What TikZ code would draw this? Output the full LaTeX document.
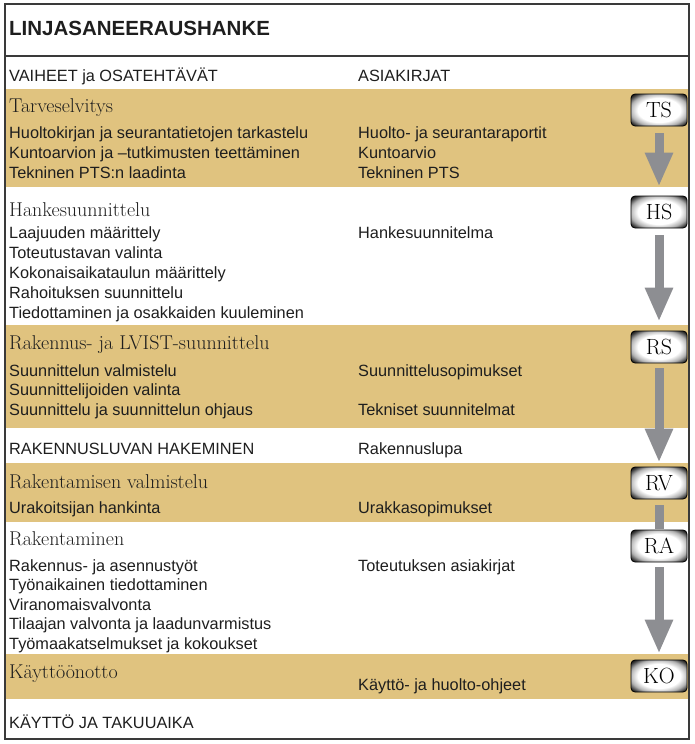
\documentclass[tikz,border=0pt]{standalone}
\usepackage{fontspec}
\setsansfont{Liberation Sans}
\usetikzlibrary{positioning, arrows.meta}
\definecolor{Sand}{HTML}{E0C37F}
\definecolor{Flow}{HTML}{8D8E92}
\definecolor{Edge}{HTML}{3A3A3A}
\definecolor{Ink}{HTML}{1E1E1E}
\pgfdeclareradialshading{badgeshade}{\pgfpoint{0bp}{0bp}}{color(0bp)=(white); color(19bp)=(white); color(26bp)=(black!30); color(31bp)=(black!75); color(35bp)=(black); color(50bp)=(black)}
\tikzset{
    band/.style={fill=Sand},
    outline/.style={draw=Edge, line width=1.3pt},
    titletext/.style={anchor=base west, inner sep=0pt, text=Ink, font=\sffamily\bfseries\fontsize{20.5}{24}\selectfont},
    tasktext/.style={anchor=base west, inner sep=0pt, text=Ink, font=\sffamily\fontsize{16.3}{20}\selectfont},
    phasetext/.style={anchor=base west, inner sep=0pt, text=Ink, font=\rmfamily\fontsize{20}{24}\selectfont},
    badge/.style={rectangle, rounded corners=4pt, draw=black, line width=0.8pt, shading=badgeshade, minimum width=56pt, minimum height=32pt, inner sep=0pt, font=\rmfamily\fontsize{22}{24}\selectfont},
    flow/.style={draw=Flow, line width=9pt, -{Triangle[length=34pt, width=26pt]}},
    flowbar/.style={draw=Flow, line width=9pt},
}

\begin{document}
\begin{tikzpicture}[x=1pt, y=-1pt]
    \useasboundingbox (0,0) rectangle (694,744);

    % bands
    \fill[band] (5,89) rectangle (689,187);
    \fill[band] (5,325) rectangle (689,428);
    \fill[band] (5,463) rectangle (689,522);
    \fill[band] (5,654) rectangle (689,699);
    \draw[outline] (5,4) rectangle (689,739);
    \draw[outline] (5,56) -- (689,56);

    \node[titletext] (title) at (9,35) {LINJASANEERAUSHANKE};
    \node[tasktext] (vaiheet) at (9,81) {VAIHEET ja OSATEHTÄVÄT};
    \node[tasktext] (asiakirjat) at (358,81) {ASIAKIRJAT};

    % Tarveselvitys
    \node[phasetext] (tarve) at (9,112) {Tarveselvitys};
    \foreach \txt [count=\i] in {Huoltokirjan ja seurantatietojen tarkastelu, Kuntoarvion ja –tutkimusten teettäminen, Tekninen PTS:n laadinta}
        \node[tasktext] (tarve-\i) at (9,118+20*\i) {\txt};
    \node[tasktext] (tarve-doc1) at (asiakirjat.base west |- tarve-1.base) {Huolto- ja seurantaraportit};
    \node[tasktext] (tarve-doc2) at (asiakirjat.base west |- tarve-2.base) {Kuntoarvio};
    \node[tasktext] (tarve-doc3) at (asiakirjat.base west |- tarve-3.base) {Tekninen PTS};

    % Hankesuunnittelu
    \node[phasetext] (hanke) at (9,216) {Hankesuunnittelu};
    \foreach \txt [count=\i] in {Laajuuden määrittely, Toteutustavan valinta, Kokonaisaikataulun määrittely, Rahoituksen suunnittelu, Tiedottaminen ja osakkaiden kuuleminen}
        \node[tasktext] (hanke-\i) at (9,218+20*\i) {\txt};
    \node[tasktext] (hanke-doc1) at (asiakirjat.base west |- hanke-1.base) {Hankesuunnitelma};

    % Rakennus- ja LVIST-suunnittelu
    \node[phasetext] (suunn) at (9,349) {Rakennus- ja LVIST-suunnittelu};
    \foreach \txt [count=\i] in {Suunnittelun valmistelu, Suunnittelijoiden valinta, Suunnittelu ja suunnittelun ohjaus}
        \node[tasktext] (suunn-\i) at (9,356.5+19.5*\i) {\txt};
    \node[tasktext] (suunn-doc1) at (asiakirjat.base west |- suunn-1.base) {Suunnittelusopimukset};
    \node[tasktext] (suunn-doc3) at (asiakirjat.base west |- suunn-3.base) {Tekniset suunnitelmat};

    \node[tasktext] (lupa) at (9,454) {RAKENNUSLUVAN HAKEMINEN};
    \node[tasktext] (lupa-doc) at (asiakirjat.base west |- lupa.base) {Rakennuslupa};

    % Rakentamisen valmistelu
    \node[phasetext] (valm) at (9,488) {Rakentamisen valmistelu};
    \node[tasktext] (valm-1) at (9,513) {Urakoitsijan hankinta};
    \node[tasktext] (valm-doc1) at (asiakirjat.base west |- valm-1.base) {Urakkasopimukset};

    % Rakentaminen
    \node[phasetext] (rak) at (9,545) {Rakentaminen};
    \foreach \txt [count=\i] in {Rakennus- ja asennustyöt, Työnaikainen tiedottaminen, Viranomaisvalvonta, Tilaajan valvonta ja laadunvarmistus, Työmaakatselmukset ja kokoukset}
        \node[tasktext] (rak-\i) at (9,551.5+19.5*\i) {\txt};
    \node[tasktext] (rak-doc1) at (asiakirjat.base west |- rak-1.base) {Toteutuksen asiakirjat};

    % Käyttöönotto
    \node[phasetext] (kaytto) at (9,678) {Käyttöönotto};
    \node[tasktext] (kaytto-doc) at (358,690) {Käyttö- ja huolto-ohjeet};
    \node[tasktext] (takuu) at (9,728) {KÄYTTÖ JA TAKUUAIKA};

    % badges
    \node[badge] (ts) at (659,110) {TS};
    \node[badge] (hs) at (659,212) {HS};
    \node[badge] (rs) at (659,347) {RS};
    \node[badge] (rv) at (659,483) {RV};
    \node[badge] (ra) at (659,546) {RA};
    \node[badge] (ko) at (659,676) {KO};

    \draw[flow, shorten <=7pt, shorten >=9pt] (ts.south) -- (hs.north);
    \draw[flow, shorten <=7pt, shorten >=9pt] (hs.south) -- (rs.north);
    \draw[flow, shorten <=5pt, shorten >=4pt] (rs.south) -- (rv.north);
    \draw[flowbar, shorten <=6pt, shorten >=1pt] (rv.south) -- (ra.north);
    \draw[flow, shorten <=5pt, shorten >=6pt] (ra.south) -- (ko.north);
\end{tikzpicture}
\end{document}
